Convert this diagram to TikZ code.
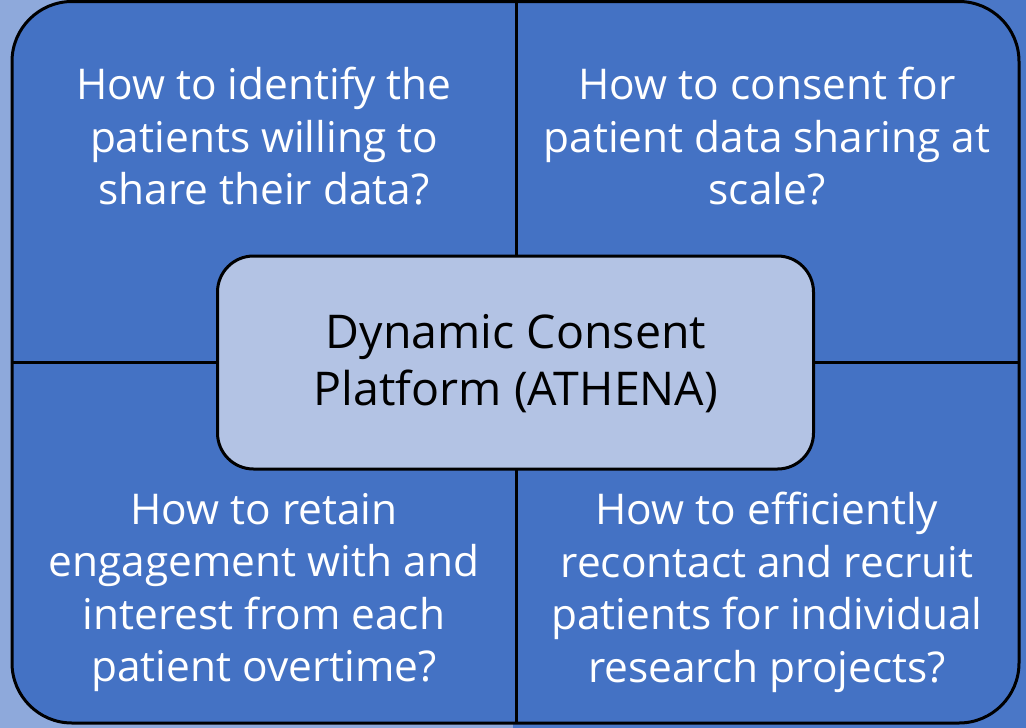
\documentclass[tikz,border=0pt]{standalone}
\usepackage{fontspec}
\setmainfont{Open Sans}
\definecolor{bgleft}{HTML}{8EA9DB}
\definecolor{bgright}{HTML}{4A77C7}
\definecolor{quad}{HTML}{4472C4}
\definecolor{centerfill}{HTML}{B3C3E4}
\begin{document}
\begin{tikzpicture}[x=1pt,y=-1pt,
  qtext/.style={text=white,align=center,inner sep=0pt,font=\fontsize{42.4}{52.5}\selectfont},
  ctext/.style={text=black,align=center,inner sep=0pt,font=\fontsize{46.5}{57}\selectfont},
  divider/.style={line width=3pt,draw=black}]
\useasboundingbox (0,0) rectangle (1026,728);
\fill[bgright] (0,0) rectangle (1026,728);
\fill[bgleft] (0,0) rectangle (513,728);
\draw[line width=3pt,fill=quad,rounded corners=60pt] (12,1.5) rectangle (1019,723) ;
\coordinate (vt) at (516,1.5);
\coordinate (vb) at (516,723);
\coordinate (hl) at (12,362);
\coordinate (hr) at (1019,362);
\draw[divider] (vt) -- (vb);
\draw[divider] (hl) -- (hr);
\node[draw=black,line width=3pt,fill=centerfill,rounded corners=36pt,minimum width=596pt,minimum height=213pt,inner sep=0pt] (core) at (515.5,362.5) {};
\node[ctext] (ctitle) at (516,363.5) {Dynamic Consent\\Platform (ATHENA)};
\node[qtext] (tl) at (264,136.5) {How to identify the\\patients willing to\\share their data?};
\node[qtext] (tr) at (767,136.5) {How to consent for\\patient data sharing at\\scale?};
\node[qtext] (bl) at (264,592.5) {How to retain\\engagement with and\\interest from each\\patient overtime?};
\node[qtext] (br) at (767,592.5) {How to efficiently\\recontact and recruit\\patients for individual\\research projects?};
\end{tikzpicture}
\end{document}
